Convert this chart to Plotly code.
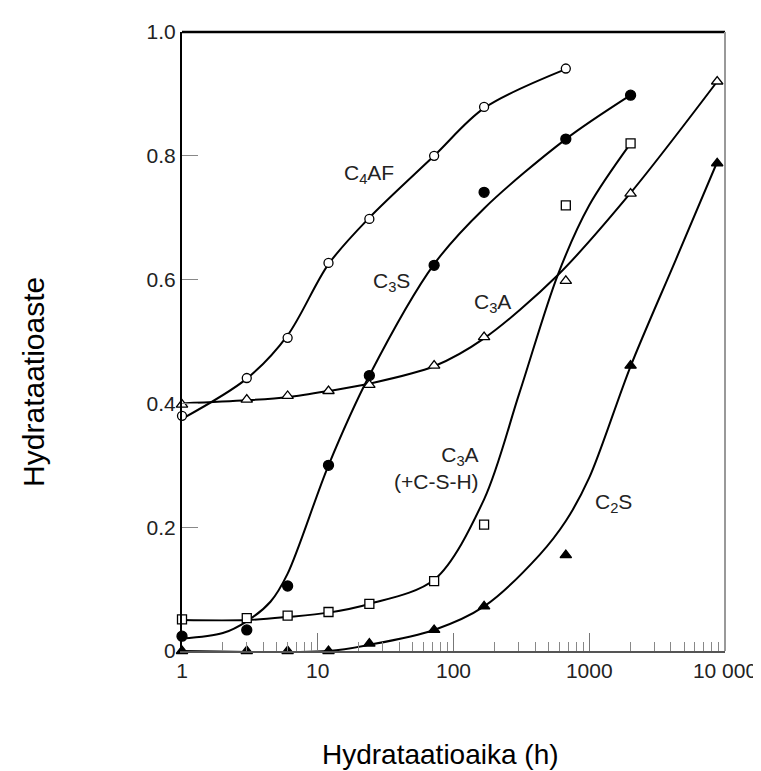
import numpy as np
import plotly.graph_objects as go

# Observed degree of hydration (x: hydration time in h)
c4af_x = [1, 3, 6, 12, 24, 72, 168, 672]
c4af_y = [0.38, 0.441, 0.506, 0.627, 0.698, 0.80, 0.879, 0.941]

c3s_x = [1, 3, 6, 12, 24, 72, 168, 672, 2016]
c3s_y = [0.024, 0.034, 0.105, 0.30, 0.445, 0.623, 0.741, 0.827, 0.898]

c3a_x = [1, 3, 6, 12, 24, 72, 168, 672, 2016, 8760]
c3a_y = [0.398, 0.406, 0.412, 0.42, 0.43, 0.461, 0.507, 0.598, 0.739, 0.92]

c3acsh_x = [1, 3, 6, 12, 24, 72, 168, 672, 2016]
c3acsh_y = [0.051, 0.053, 0.057, 0.063, 0.076, 0.113, 0.204, 0.72, 0.82]

c2s_x = [1, 3, 6, 12, 24, 72, 168, 672, 2016, 8760]
c2s_y = [0.0, 0.0, 0.0, 0.0, 0.012, 0.034, 0.072, 0.155, 0.461, 0.788]

# Fitted curves
c4af_fx = [1, 3, 6, 12, 24, 72, 168, 672]
c4af_fy = [0.375, 0.44, 0.51, 0.625, 0.70, 0.80, 0.877, 0.94]

c3s_fx = [1, 2, 3, 4.5, 6, 12, 24, 72, 168, 672, 2016]
c3s_fy = [0.02, 0.029, 0.048, 0.08, 0.125, 0.30, 0.445, 0.625, 0.715, 0.827, 0.898]

c3a_fx = [1, 3, 6, 12, 24, 72, 168, 585, 2016, 8760]
c3a_fy = [0.40, 0.405, 0.41, 0.42, 0.432, 0.46, 0.505, 0.607, 0.74, 0.92]

c3acsh_fx = [1, 3, 6, 12, 24, 72, 168, 306, 585, 1000, 2016]
c3acsh_fy = [0.05, 0.05, 0.055, 0.062, 0.076, 0.115, 0.245, 0.417, 0.607, 0.72, 0.82]

c2s_fx = [1, 12, 24, 72, 168, 429, 672, 1000, 2016, 4300, 8760]
c2s_fy = [0.0, 0.0, 0.01, 0.034, 0.072, 0.155, 0.21, 0.28, 0.46, 0.63, 0.79]

# Tick labels
x_tickvals = [1, 10, 100, 1000, 10000]
x_ticktext = ["1", "10", "100", "1000", "10 000"]
y_tickvals = [0, 0.2, 0.4, 0.6, 0.8, 1.0]
y_ticktext = ["0", "0.2", "0.4", "0.6", "0.8", "1.0"]

# Curve labels
label_text = ["C<sub>4</sub>AF", "C<sub>3</sub>S", "C<sub>3</sub>A", "C<sub>3</sub>A<br>(+C-S-H)", "C<sub>2</sub>S"]
label_x = [23.7, 35, 193, 160, 1513]
label_y = [0.771, 0.596, 0.562, 0.295, 0.239]
label_anchor = ["center", "center", "center", "right", "center"]

FONT = "Liberation Sans, Arial, sans-serif"

fig = go.Figure()

curves = [(c4af_fx, c4af_fy), (c3s_fx, c3s_fy), (c3a_fx, c3a_fy),
          (c3acsh_fx, c3acsh_fy), (c2s_fx, c2s_fy)]
for cx, cy in curves:
    fig.add_trace(go.Scatter(x=cx, y=cy, mode="lines",
                             line=dict(color="black", width=2, shape="spline", smoothing=0.9),
                             hoverinfo="skip", showlegend=False))

series = [
    (c4af_x, c4af_y, "circle", "white", 9),
    (c3s_x, c3s_y, "circle", "black", 10),
    (c3a_x, c3a_y, "triangle-up", "white", 10),
    (c3acsh_x, c3acsh_y, "square", "white", 9),
    (c2s_x, c2s_y, "triangle-up", "black", 10),
]
for sx, sy, sym, fill, sz in series:
    fig.add_trace(go.Scatter(x=sx, y=sy, mode="markers", cliponaxis=False,
                             marker=dict(symbol=sym, color=fill, size=sz,
                                         line=dict(color="black", width=1.3)),
                             showlegend=False))

minor_vals = [m * 10 ** k for k in range(0, 4) for m in range(2, 10)]

fig.update_xaxes(type="log", range=[0, 4], showgrid=False, zeroline=False,
                 showline=True, linecolor="#555", linewidth=1.5,
                 ticks="inside", ticklen=18, tickwidth=1, tickcolor="#777",
                 tickvals=x_tickvals, ticktext=x_ticktext,
                 tickfont=dict(family=FONT, size=21, color="#222"),
                 minor=dict(ticks="inside", ticklen=9, tickwidth=1, tickcolor="#888",
                            tickvals=minor_vals, showgrid=False))
fig.update_yaxes(range=[0, 1], showgrid=False, zeroline=False,
                 showline=True, linecolor="black", linewidth=2,
                 ticks="inside", ticklen=16, tickwidth=1, tickcolor="#888",
                 tickvals=y_tickvals, ticktext=y_ticktext,
                 tickfont=dict(family=FONT, size=21, color="#222"))

# frame top/right
fig.add_shape(type="line", xref="paper", yref="paper", x0=0, x1=1, y0=1, y1=1,
              line=dict(color="black", width=2.5))
fig.add_shape(type="line", xref="paper", yref="paper", x0=1, x1=1, y0=0, y1=1,
              line=dict(color="#999", width=2))

for t, lx, ly, anc in zip(label_text, label_x, label_y, label_anchor):
    fig.add_annotation(x=np.log10(lx), y=ly, xref="x", yref="y", text=t, showarrow=False,
                       xanchor=anc, yanchor="middle", align=anc if anc != "center" else "center",
                       font=dict(family=FONT, size=21, color="#222"))

fig.add_annotation(x=-0.2747, y=0.4345, xref="paper", yref="paper", text="Hydrataatioaste",
                   textangle=-90, showarrow=False, xanchor="center", yanchor="middle",
                   font=dict(family=FONT, size=30, color="black"))
fig.add_annotation(x=0.476, y=-0.168, xref="paper", yref="paper", text="Hydrataatioaika (h)",
                   showarrow=False, xanchor="center", yanchor="middle",
                   font=dict(family=FONT, size=28, color="black"))

fig.update_layout(width=761, height=771, plot_bgcolor="white", paper_bgcolor="white",
                  margin=dict(l=174, r=41, t=20, b=128), showlegend=False)

fig.write_html("out.html")
